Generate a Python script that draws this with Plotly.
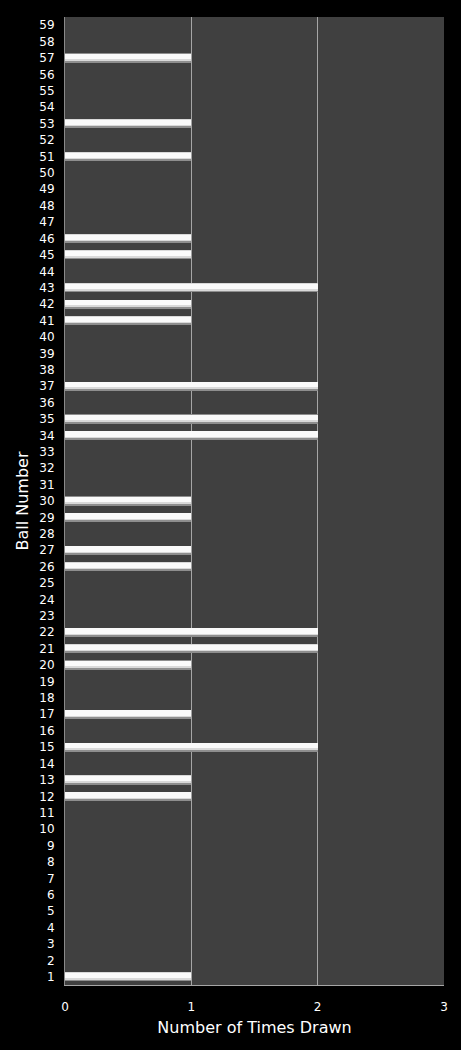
import plotly.graph_objects as go

ball_numbers = list(range(1, 60))
drawn_balls = [1, 12, 13, 15, 17, 20, 21, 22, 26, 27, 29, 30, 34, 35, 37, 41, 42, 43, 45, 46, 51, 53, 57]
drawn_counts = [1, 1, 1, 2, 1, 1, 2, 2, 1, 1, 1, 1, 2, 2, 2, 1, 1, 2, 1, 1, 1, 1, 1]
x_ticks = [0, 1, 2, 3]

counts = {b: c for b, c in zip(drawn_balls, drawn_counts)}
values = [counts.get(b, 0) for b in ball_numbers]

fig = go.Figure()
# layered bars to imitate the cylindrical shading (darker underside, bright top)
layers = [
    (0.56, 0.0, "#8e8e8e"),
    (0.44, 0.05, "#d9d9d9"),
    (0.32, 0.08, "#fafafa"),
]
for w, off, col in layers:
    fig.add_trace(go.Bar(
        x=values, y=[b + off for b in ball_numbers], orientation="h",
        width=w, marker=dict(color=col, line=dict(width=0)),
        hoverinfo="skip", showlegend=False,
    ))

fig.update_layout(
    width=461, height=1050,
    margin=dict(l=65, r=17, t=17, b=65),
    paper_bgcolor="#000000", plot_bgcolor="#404040",
    barmode="overlay", bargap=0,
    font=dict(family="DejaVu Sans, Open Sans, sans-serif", color="#ffffff", size=12),
    xaxis=dict(
        range=[0, 3], tickvals=x_ticks, ticktext=[str(t) for t in x_ticks],
        showgrid=True, gridcolor="#a6a6a6", gridwidth=1,
        zeroline=False, showline=True, linecolor="#a6a6a6", linewidth=1,
        ticks="outside", ticklen=11, tickcolor="#000000",
        tickfont=dict(size=12, color="#ffffff"),
        title=dict(text="Number of Times Drawn", font=dict(size=16, color="#ffffff"), standoff=8),
        fixedrange=True,
    ),
    yaxis=dict(
        range=[0.5, 59.5], tickmode="array", tickvals=ball_numbers,
        ticktext=[str(b) for b in ball_numbers],
        showgrid=False, zeroline=False, showline=True, linecolor="#8a8a8a", linewidth=1,
        ticks="outside", ticklen=7, tickcolor="#000000",
        tickfont=dict(size=12, color="#ffffff"),
        title=dict(text="Ball Number", font=dict(size=16, color="#ffffff"), standoff=6),
        fixedrange=True,
    ),
)

fig.write_html("out.html")
